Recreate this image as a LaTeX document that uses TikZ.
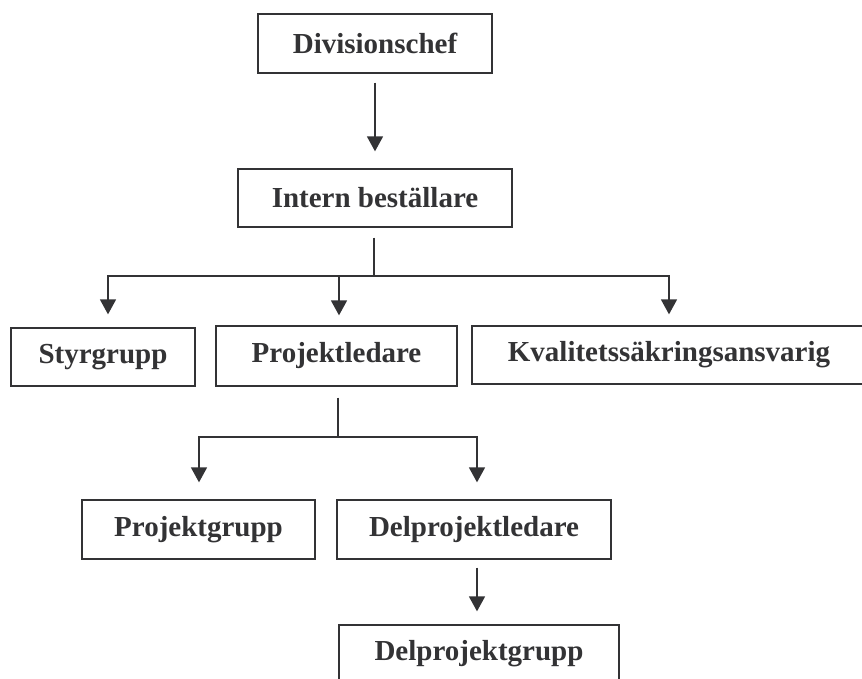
\documentclass[tikz,border=0pt]{standalone}
\usepackage{fontspec}
\setmainfont{Liberation Serif}
\usetikzlibrary{arrows.meta}
\definecolor{ink}{HTML}{333335}
\tikzset{
  box/.style={draw=ink, line width=1.3pt, fill=white, text=ink, inner sep=0pt,
    font=\fontsize{29}{34}\selectfont\bfseries},
  conn/.style={draw=ink, line width=1.6pt},
  arr/.style={conn, -{Triangle[width=16pt,length=15pt]}},
}
\begin{document}
\begin{tikzpicture}[x=1pt,y=-1pt]
\useasboundingbox (0,0) rectangle (862,679);
\clip (0,0) rectangle (862,679);
\node[box, minimum width=234pt, minimum height=59pt] (div) at (375,43.5) {Divisionschef};
\node[box, minimum width=274pt, minimum height=58pt] (intern) at (375,198) {Intern beställare};
\node[box, minimum width=184pt, minimum height=58pt] (styr) at (103,357) {Styrgrupp};
\node[box, minimum width=241pt, minimum height=60pt] (projl) at (336.5,356) {Projektledare};
\node[box, minimum width=394pt, minimum height=58pt] (kval) at (669,355) {Kvalitetssäkringsansvarig};
\node[box, minimum width=233pt, minimum height=59pt] (projg) at (198.5,529.5) {Projektgrupp};
\node[box, minimum width=274pt, minimum height=59pt] (delpl) at (474,529.5) {Delprojektledare};
\node[box, minimum width=280pt, minimum height=58pt] (delpg) at (479,654) {Delprojektgrupp};

% Divisionschef -> Intern beställare
\draw[arr, shorten <=9pt, shorten >=17pt] (div.south) -- (intern.north);

% Intern beställare -> three boxes
\coordinate (b1) at (374,276);
\draw[conn] ([xshift=-1pt,yshift=-10pt]intern.south) -- (b1);
\draw[arr] (b1) -| ([xshift=5pt,yshift=13pt]styr.north);
\draw[arr] (b1) -| ([yshift=11pt]kval.north);
\draw[arr] (b1 -| projl.north) ++(2.5pt,0) -- ([xshift=2.5pt,yshift=10pt]projl.north);

% Projektledare -> Projektgrupp, Delprojektledare
\coordinate (b2) at (338,437);
\draw[conn] ([xshift=1.5pt,yshift=-11pt]projl.south) -- (b2);
\draw[arr] (b2) -| ([xshift=0.5pt,yshift=17pt]projg.north);
\draw[arr] (b2) -| ([xshift=3pt,yshift=17pt]delpl.north);

% Delprojektledare -> Delprojektgrupp
\draw[arr] ([xshift=3pt,yshift=-8pt]delpl.south) -- ([xshift=-2pt,yshift=13pt]delpg.north);
\end{tikzpicture}
\end{document}
